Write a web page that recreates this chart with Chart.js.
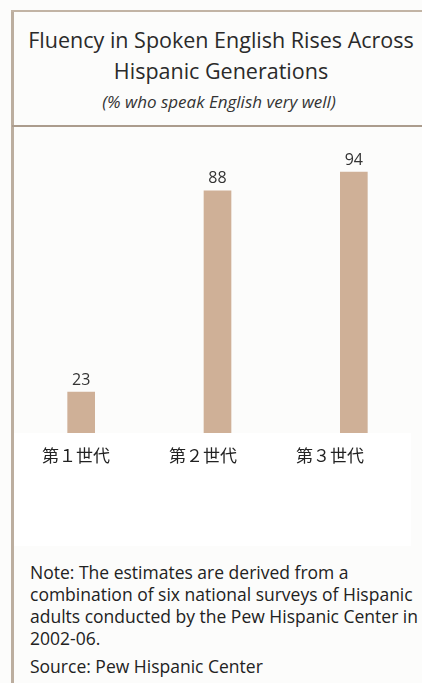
<!DOCTYPE html>
<html>
<head>
<meta charset="utf-8">
<script src="https://cdn.jsdelivr.net/npm/chart.js@4.4.1/dist/chart.umd.min.js"></script>
<style>
  html, body { margin: 0; padding: 0; }
  body { width: 422px; height: 683px; background: #fcfcfb; position: relative; overflow: hidden; font-family: "Open Sans", "Noto Sans", sans-serif; }
  .lborder { position: absolute; left: 11px; top: 10px; width: 3px; height: 673px; background: #bcae9f; }
  .tborder { position: absolute; left: 11px; top: 10px; width: 411px; height: 2px; background: #c2b4a5; }
  .divider { position: absolute; left: 12px; top: 125px; width: 410px; height: 2px; background: #ab9c8d; }
  .title { position: absolute; left: 12px; width: 418px; text-align: center; color: #2a2a2a; font-size: 21.5px; line-height: 31px; top: 24px; white-space: nowrap; }
  .sub { position: absolute; left: 12px; width: 414px; text-align: center; color: #333; font-size: 17px; font-style: italic; top: 90px; white-space: nowrap; }
  .note { position: absolute; left: 30px; top: 561px; width: 392px; color: #222; font-size: 17.5px; line-height: 22px; white-space: nowrap; }
  .src { position: absolute; left: 30px; top: 655px; color: #222; font-size: 17.5px; line-height: 22px; white-space: nowrap; }
  canvas { position: absolute; left: 0; top: 128px; }
</style>
</head>
<body>
<div class="lborder"></div>
<div class="tborder"></div>
<div class="title">Fluency in Spoken English Rises Across<br>Hispanic Generations</div>
<div class="sub">(% who speak English very well)</div>
<div class="divider"></div>
<canvas id="c" width="422" height="420"></canvas>
<div class="note">Note: The estimates are derived from a<br>combination of six national surveys of Hispanic<br>adults conducted by the Pew Hispanic Center in<br>2002-06.</div>
<div class="src">Source: Pew Hispanic Center</div>
<script>
const generations = ['第１世代', '第２世代', '第３世代'];
const percentVeryWell = [23, 88, 94];
const labelTickValues = [1, 2, 3];

const whiteBoxAndValues = {
  id: 'whiteBoxAndValues',
  afterDatasetsDraw(chart) {
    const ctx = chart.ctx;
    const ca = chart.chartArea;
    ctx.save();
    ctx.fillStyle = '#ffffff';
    ctx.fillRect(14, ca.bottom - 30.4, 397, 113);
    const meta = chart.getDatasetMeta(0);
    ctx.fillStyle = '#333333';
    ctx.font = '16px "Open Sans", "Noto Sans", sans-serif';
    ctx.textAlign = 'center';
    ctx.textBaseline = 'middle';
    meta.data.forEach((bar, i) => {
      ctx.fillText(String(chart.data.datasets[0].data[i]), bar.x, bar.y - 12);
    });
    ctx.restore();
  }
};

new Chart(document.getElementById('c'), {
  type: 'bar',
  data: {
    labels: generations,
    datasets: [{
      data: percentVeryWell,
      backgroundColor: '#cfb097',
      borderWidth: 0,
      barThickness: 27,
      xAxisID: 'x',
      yAxisID: 'y'
    }]
  },
  options: {
    responsive: false,
    animation: false,
    layout: { padding: { left: 13, right: 0, top: 25.6, bottom: 64.6 } },
    plugins: { legend: { display: false }, tooltip: { enabled: false }, title: { display: false } },
    scales: {
      x: { type: 'category', display: false, offset: true },
      y: { display: false, min: 0, max: 100 },
      x2: {
        type: 'linear',
        position: 'bottom',
        offset: false,
        min: 0.504,
        max: 3.724,
        grid: { display: false, drawTicks: false, offset: false },
        border: { display: false },
        afterBuildTicks: (s) => { s.ticks = labelTickValues.map(v => ({ value: v })); },
        afterFit: (s) => { s.height = 20; },
        ticks: {
          z: 1,
          mirror: true,
          padding: -2.6,
          maxRotation: 0,
          autoSkip: false,
          color: '#222222',
          font: { size: 17, family: '"Noto Sans CJK JP", sans-serif' },
          callback: (v) => generations[v - 1]
        }
      }
    }
  },
  plugins: [whiteBoxAndValues]
});
</script>
</body>
</html>
